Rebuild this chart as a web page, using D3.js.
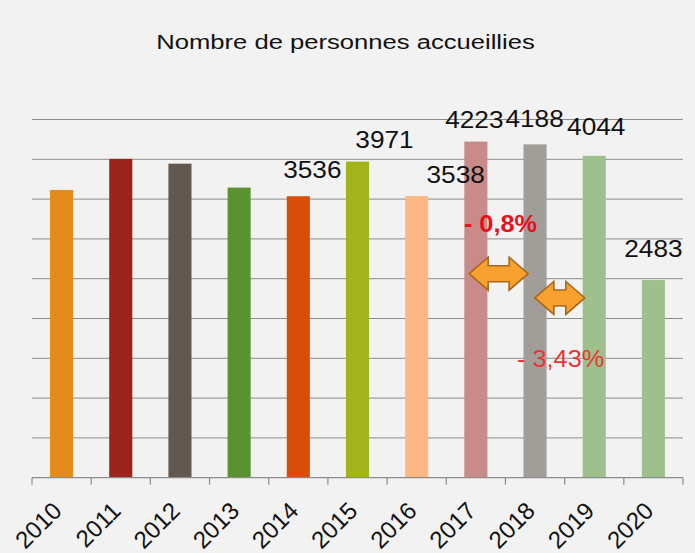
<!DOCTYPE html>
<html>
<head>
<meta charset="utf-8">
<script src="https://cdn.jsdelivr.net/npm/d3@7/dist/d3.min.js"></script>
<style>
  body { margin: 0; background: #f2f2f2; }
  svg { display: block; }
  text { font-family: "Liberation Sans", Arial, sans-serif; }
</style>
</head>
<body>
<svg id="chart" width="695" height="553"></svg>
<script>
// Data
var years = ["2010", "2011", "2012", "2013", "2014", "2015", "2016", "2017", "2018", "2019", "2020"];
var visitors = [3615, 4005, 3945, 3645, 3536, 3971, 3538, 4223, 4188, 4044, 2483];
var barColors = ["#e38b1b", "#9a241a", "#625850", "#5a9232", "#d84e06", "#a2b419",
                 "#fdb784", "#c98a8a", "#a19d98", "#9dc08c", "#9dc08c"];
var labelledYears = ["2014", "2015", "2016", "2017", "2018", "2019", "2020"];
var yTicks = [0, 500, 1000, 1500, 2000, 2500, 3000, 3500, 4000, 4500];
var changeNotes = [
    { text: "- 0,8%", from: "2017", to: "2018", bold: true },
    { text: "- 3,43%", from: "2018", to: "2019", bold: false }
];
var title = "Nombre de personnes accueillies";

var svg = d3.select("#chart");
var width = 695,
    height = 553;

var margin = { left: 32, right: 12, top: 119.5, bottom: 75.3 };

var xScale = d3.scaleBand()
    .domain(years)
    .range([margin.left, width - margin.right])
    .paddingInner(0.61)
    .paddingOuter(0.305);

var xBand = d3.scaleBand()
    .domain(years)
    .range([margin.left, width - margin.right]);

var yScale = d3.scaleLinear()
    .domain([0, 4500])
    .range([height - margin.bottom, margin.top]);

var center = function (yr) { return xBand(yr) + xBand.bandwidth() / 2; };

// Title
svg.append("text")
    .attr("transform", "translate(345.5,49) scale(1.22,1)")
    .attr("text-anchor", "middle")
    .attr("font-size", "21px")
    .attr("fill", "#111")
    .text(title);

// Horizontal grid lines
svg.append("g")
    .selectAll("line")
    .data(yTicks.slice(1))
    .enter()
    .append("line")
    .attr("x1", margin.left)
    .attr("x2", width - margin.right)
    .attr("y1", d => yScale(d))
    .attr("y2", d => yScale(d))
    .style("stroke", "#8c8c8c")
    .style("stroke-width", 1);

// Bars
svg.append("g")
    .selectAll("rect")
    .data(years)
    .enter()
    .append("rect")
    .attr("x", d => xScale(d))
    .attr("width", xScale.bandwidth())
    .attr("y", (d, i) => yScale(visitors[i]))
    .attr("height", (d, i) => yScale(0) - yScale(visitors[i]))
    .style("fill", (d, i) => barColors[i]);

// X axis with ticks at band edges
var axisG = svg.append("g")
    .attr("transform", "translate(0," + yScale(0) + ")");
axisG.append("line")
    .attr("x1", margin.left)
    .attr("x2", width - margin.right)
    .style("stroke", "#8c8c8c")
    .style("stroke-width", 1.2);
var edges = years.map(d => xBand(d)).concat([width - margin.right]);
axisG.selectAll("line.tick")
    .data(edges)
    .enter()
    .append("line")
    .attr("class", "tick")
    .attr("x1", d => d)
    .attr("x2", d => d)
    .attr("y1", 0)
    .attr("y2", 7)
    .style("stroke", "#8c8c8c")
    .style("stroke-width", 1.2);

axisG.selectAll("text")
    .data(years)
    .enter()
    .append("text")
    .attr("transform", d => "translate(" + (center(d) + 1.5) + ",34.5) rotate(-45)")
    .attr("text-anchor", "end")
    .attr("font-size", "24px")
    .attr("fill", "#111")
    .text(d => d);

// Value labels (offsets from band centre / bar top, in px)
var labelShift = {
    "2014": [14, -18], "2015": [27, -13.5], "2016": [39, -13],
    "2017": [-1.5, -14], "2018": [-0.5, -17], "2019": [2, -21], "2020": [0, -23.5]
};
svg.append("g")
    .selectAll("text")
    .data(labelledYears)
    .enter()
    .append("text")
    .attr("transform", function (d) {
        var v = visitors[years.indexOf(d)];
        var s = labelShift[d];
        return "translate(" + (center(d) + s[0]) + "," + (yScale(v) + s[1]) + ") scale(1.14,1)";
    })
    .attr("text-anchor", "middle")
    .attr("font-size", "23px")
    .attr("fill", "#111")
    .text(d => visitors[years.indexOf(d)]);

// Double-headed arrows between consecutive years
var arrowPath = function (w, h, shaft, head) {
    var t = shaft / 2, hh = h / 2;
    return "M0,0 L" + head + "," + (-hh) + " L" + head + "," + (-t) +
        " L" + (w - head) + "," + (-t) + " L" + (w - head) + "," + (-hh) +
        " L" + w + ",0 L" + (w - head) + "," + hh + " L" + (w - head) + "," + t +
        " L" + head + "," + t + " L" + head + "," + hh + " Z";
};
var arrowSpecs = [
    { from: "2017", to: "2018", dx0: -6.7, dx1: -6.9, level: 2563 },
    { from: "2018", to: "2019", dx0: -0.2, dx1: -9.4, level: 2258 }
];
svg.append("g")
    .selectAll("path")
    .data(arrowSpecs)
    .enter()
    .append("path")
    .attr("transform", d => "translate(" + (center(d.from) + d.dx0) + "," + yScale(d.level) + ")")
    .attr("d", d => arrowPath((center(d.to) + d.dx1) - (center(d.from) + d.dx0), 33, 16, 19))
    .style("fill", "#f9a12e")
    .style("stroke", "#a8691c")
    .style("stroke-width", 1.6)
    .style("stroke-linejoin", "miter");

// Percentage change notes
var notePlace = [
    { dx: -5, level: 3090 },
    { dx: -4, level: 1394 }
];
svg.append("g")
    .selectAll("text")
    .data(changeNotes)
    .enter()
    .append("text")
    .attr("transform", function (d, i) {
        var cx = (center(d.from) + center(d.to)) / 2 + notePlace[i].dx;
        return "translate(" + cx + "," + yScale(notePlace[i].level) + ") scale(1.1,1)";
    })
    .attr("text-anchor", "middle")
    .attr("font-size", "23px")
    .attr("font-weight", d => d.bold ? "bold" : "normal")
    .attr("fill", d => d.bold ? "#e8101a" : "#e83434")
    .text(d => d.text);
</script>
</body>
</html>
